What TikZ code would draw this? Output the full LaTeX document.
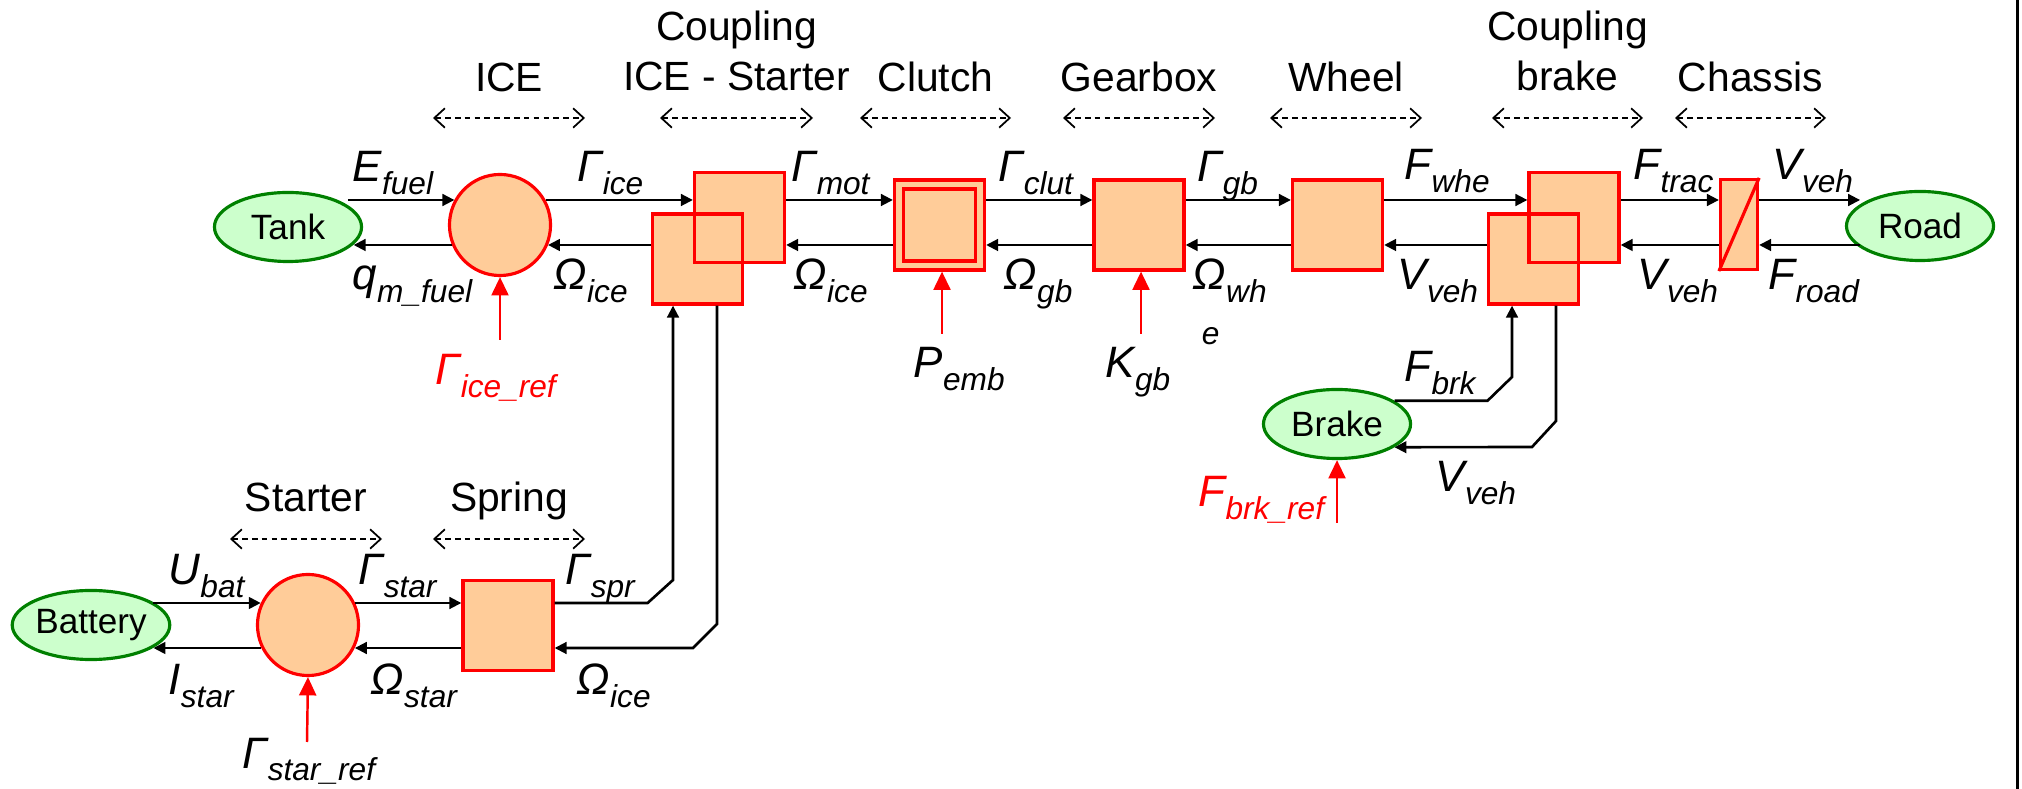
\documentclass[tikz,border=0pt]{standalone}
\usepackage{fontspec}
\setmainfont{Liberation Sans}
\usetikzlibrary{arrows.meta,shapes.geometric}
\definecolor{blockfill}{HTML}{FFCC99}
\definecolor{srcfill}{HTML}{CCFFCC}
\definecolor{srcline}{HTML}{008000}
\newcommand{\sg}[2]{#1\raisebox{-3.5pt}{\fontsize{9}{10}\selectfont #2}}
\tikzset{
  src/.style={ellipse,draw=srcline,fill=srcfill,line width=0.9pt,minimum width=1.47cm,minimum height=0.69cm,inner sep=0pt,font=\fontsize{10}{12}\selectfont},
  conv/.style={circle,draw=red,fill=blockfill,line width=0.9pt,minimum size=1.01cm,inner sep=0pt},
  blk/.style={rectangle,draw=red,fill=blockfill,line width=0.9pt,minimum width=0.9cm,minimum height=0.9cm,inner sep=0pt},
  sig/.style={-{Triangle[length=3.4pt,width=3.3pt]},line width=0.75pt},
  refsig/.style={-{Triangle[length=5.2pt,width=4.8pt]},line width=0.7pt,red},
  modspan/.style={{Straight Barb[length=3pt,width=5.5pt]}-{Straight Barb[length=3pt,width=5.5pt]},dash pattern=on 1.6pt off 1.2pt,line width=0.5pt},
  ttl/.style={font=\fontsize{11.6}{14.2}\selectfont,inner sep=0pt,align=center},
  lbl/.style={font=\fontsize{12.5}{14}\selectfont\itshape,inner sep=0pt,anchor=base west}
}
\begin{document}
\begin{tikzpicture}[x=0.01cm,y=-0.01cm]
\useasboundingbox (0,0) rectangle (2022,789);
% module names and spans
\foreach \xa/\xb/\name in {433/585/ICE,860/1011/Clutch,1063/1215/Gearbox,1270/1422/Wheel,1675/1826/Chassis}{
  \draw[modspan] (\xa,118) -- (\xb,118);
  \node[ttl,anchor=base] (t-\name) at ({(\xa+\xb)/2},92) {\name};
}
\draw[modspan] (660,118) -- (813,118);
\node[ttl,anchor=south] (t-cpl) at (736.5,92) {Coupling\\ICE - Starter};
\draw[modspan] (1492,118) -- (1643,118);
\node[ttl,anchor=south] (t-cpb) at (1567.5,92) {Coupling\\brake};
\draw[modspan] (230,539) -- (382,539);
\node[ttl,anchor=base] (t-star) at (306,512) {Starter};
\draw[modspan] (433,539) -- (585,539);
\node[ttl,anchor=base] (t-spr) at (509,512) {Spring};
% blocks
\node[src] (tank) at (288,227) {Tank};
\node[conv] (ice) at (500,225) {};
\node[blk] (cpl_lo) at (697.5,259) {};
\node[blk] (cpl_up) at (739.5,217.5) {};
\node[blk,fill=none] (cpl_edge) at (cpl_lo) {};
\node[blk] (clutch) at (939.5,225) {};
\node[blk,minimum size=0.72cm] (clutch_in) at (clutch) {};
\node[blk] (gear) at (1139,225) {};
\node[blk] (wheel) at (1337.5,225) {};
\node[blk] (cpb_lo) at (1533.5,259) {};
\node[blk] (cpb_up) at (1574,217.5) {};
\node[blk,fill=none] (cpb_edge) at (cpb_lo) {};
\node[blk,minimum width=0.37cm] (chassis) at (1739,224.5) {};
\draw[red,line width=0.9pt] (chassis.south west) -- (chassis.north east);
\node[src] (road) at (1920,226) {Road};
\node[src] (brake) at (1337,424) {Brake};
\node[src] (battery) at (91,625) {Battery};
\node[conv] (starter) at (308,625) {};
\node[blk] (spring) at (508,625.5) {};
% rows
\coordinate (ru) at (0,200); \coordinate (rd) at (0,245);
\coordinate (su) at (0,603); \coordinate (sd) at (0,648);
% main chain
\draw[sig] (tank.20 |- ru) -- (ice.151 |- ru);
\draw[sig] (ice.203 |- rd) -- (tank.-15 |- rd);
\draw[sig] (ice.29 |- ru) -- (cpl_up.west |- ru);
\draw[sig] (cpl_lo.west |- rd) -- (ice.-23 |- rd);
\draw[sig] (cpl_up.east |- ru) -- (clutch.west |- ru);
\draw[sig] (clutch.west |- rd) -- (cpl_up.east |- rd);
\draw[sig] (clutch.east |- ru) -- (gear.west |- ru);
\draw[sig] (gear.west |- rd) -- (clutch.east |- rd);
\draw[sig] (gear.east |- ru) -- (wheel.west |- ru);
\draw[sig] (wheel.west |- rd) -- (gear.east |- rd);
\draw[sig] (wheel.east |- ru) -- (cpb_up.west |- ru);
\draw[sig] (cpb_lo.west |- rd) -- (wheel.east |- rd);
\draw[sig] (cpb_up.east |- ru) -- (chassis.west |- ru);
\draw[sig] (chassis.west |- rd) -- (cpb_up.east |- rd);
\draw[sig] (chassis.east |- ru) -- (road.160 |- ru);
\draw[sig] (road.200 |- rd) -- (chassis.east |- rd);
% starter chain
\draw[sig] (battery.20 |- su) -- (starter.155 |- su);
\draw[sig] (starter.206 |- sd) -- (battery.-20 |- sd);
\draw[sig] (starter.25 |- su) -- (spring.west |- su);
\draw[sig] (spring.west |- sd) -- (starter.-26 |- sd);
\coordinate (k1) at (673,580); \coordinate (k2) at (717,624);
\draw[sig] (spring.east |- su) -- ++(93,0) -- (k1) -- (k1 |- cpl_lo.south);
\draw[sig] (k2 |- cpl_lo.south) -- (k2) -- ++(-24,24) -- (spring.east |- sd);
% brake loop
\coordinate (b1) at (1512,377); \coordinate (b2) at (1556,421);
\draw[sig] (brake.22) -- ++(93,0) -- (b1) -- (b1 |- cpb_lo.south);
\draw[sig] (b2 |- cpb_lo.south) -- (b2) -- ++(-24,26) -- (brake.-22);
% references
\coordinate (iceref) at (500,340);
\coordinate (pemb) at (942,334);
\coordinate (kgb) at (1141,334);
\coordinate (starref) at (307,742);
\coordinate (brkref) at (1337,523);
\draw[refsig] (iceref) -- (ice.south);
\draw[refsig] (pemb) -- (pemb |- clutch.south);
\draw[refsig] (kgb) -- (kgb |- gear.south);
\draw[refsig] (starref) -- (starter.south);
\draw[refsig] (brkref) -- (brake.south);
% signal names
\node[lbl] (l_efuel) at (352,182) {\sg{E}{fuel}};
\node[lbl] (l_qfuel) at (352,290) {\sg{q}{m\_fuel}};
\node[lbl] (l_gice) at (577,182) {\sg{Γ}{ice}};
\node[lbl] (l_wice) at (553,290) {\sg{Ω}{ice}};
\node[lbl] (l_gmot) at (791,182) {\sg{Γ}{mot}};
\node[lbl] (l_wice2) at (793,290) {\sg{Ω}{ice}};
\node[lbl] (l_gclut) at (998,182) {\sg{Γ}{clut}};
\node[lbl] (l_wgb) at (1003,290) {\sg{Ω}{gb}};
\node[lbl] (l_ggb) at (1197,182) {\sg{Γ}{gb}};
\node[lbl] (l_wwh) at (1192,290) {\rlap{\hspace*{2.6pt}\raisebox{-15.6pt}{\fontsize{9}{10}\selectfont e}}\sg{Ω}{wh}};
\node[lbl] (l_fwhe) at (1404,180) {\sg{F}{whe}};
\node[lbl] (l_vveh1) at (1397,290) {\sg{V}{veh}};
\node[lbl] (l_ftrac) at (1633,180) {\sg{F}{trac}};
\node[lbl] (l_vveh2) at (1637,290) {\sg{V}{veh}};
\node[lbl] (l_vveh3) at (1772,180) {\sg{V}{veh}};
\node[lbl] (l_froad) at (1768,290) {\sg{F}{road}};
\node[lbl] (l_ubat) at (168,585) {\sg{U}{bat}};
\node[lbl] (l_istar) at (168,695) {\sg{I}{star}};
\node[lbl] (l_gstar) at (358,585) {\sg{Γ}{star}};
\node[lbl] (l_wstar) at (370,695) {\sg{Ω}{star}};
\node[lbl] (l_gspr) at (565,585) {\sg{Γ}{spr}};
\node[lbl] (l_wice3) at (576,695) {\sg{Ω}{ice}};
\node[lbl] (l_fbrk) at (1404,382) {\sg{F}{brk}};
\node[lbl] (l_vveh4) at (1435,492) {\sg{V}{veh}};
\node[lbl,red] (l_iceref) at (435,385) {\sg{Γ}{ice\_ref}};
\node[lbl] (l_pemb) at (913,378) {\sg{P}{emb}};
\node[lbl] (l_kgb) at (1105,378) {\sg{K}{gb}};
\node[lbl] (l_starref) at (242,768) {\sg{Γ}{star\_ref}};
\node[lbl,red] (l_brkref) at (1198,507) {\sg{F}{brk\_ref}};
% frame edge
\draw[line width=0.85pt] (2017.5,0) -- (2017.5,789);
\end{tikzpicture}
\end{document}
